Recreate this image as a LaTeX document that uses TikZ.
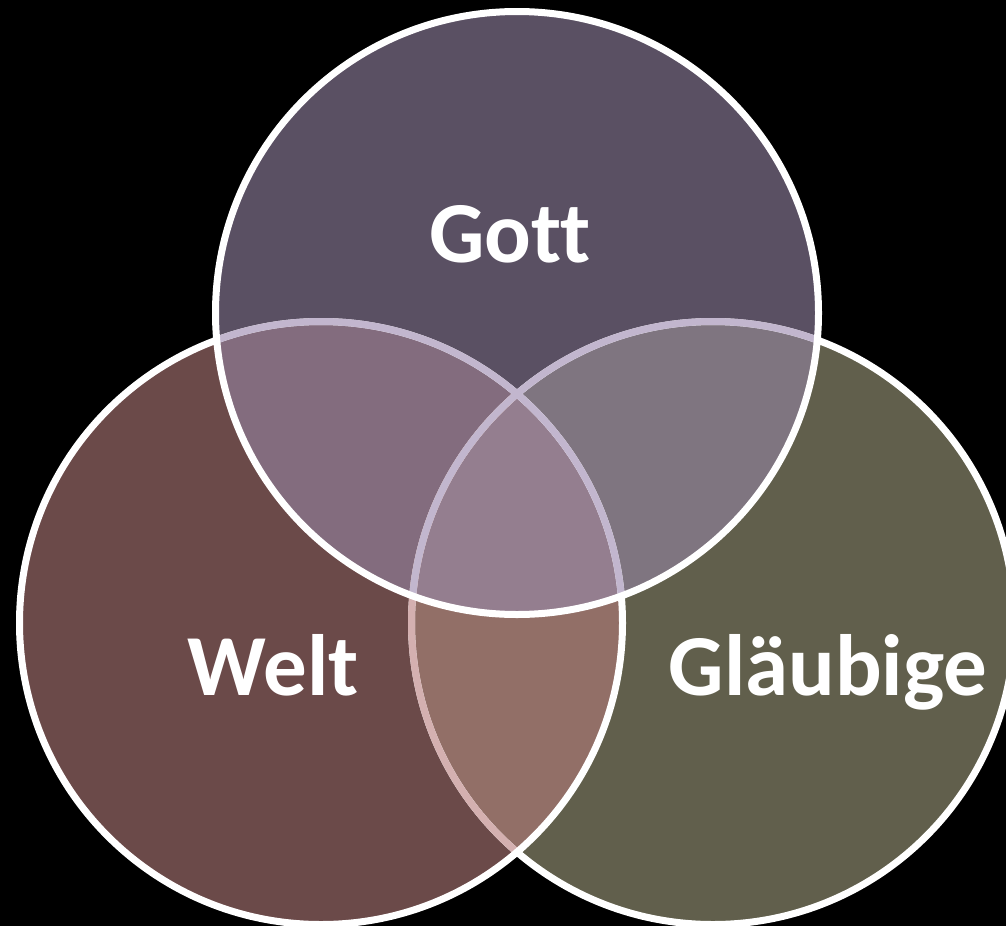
\documentclass[tikz,border=0pt]{standalone}
\usepackage{fontspec}
\setmainfont{Carlito}[RawFeature={-liga;-clig}]
\begin{document}
\begin{tikzpicture}[x=1pt,y=-1pt]
\definecolor{cG}{HTML}{5A5063}
\definecolor{cW}{HTML}{6B4A49}
\definecolor{cL}{HTML}{615F4C}
\definecolor{cGW}{HTML}{836C7E}
\definecolor{cGL}{HTML}{7F7580}
\definecolor{cWL}{HTML}{926F67}
\definecolor{cGWL}{HTML}{947E8F}
\definecolor{lav}{HTML}{C2B6CE}
\definecolor{pinkline}{HTML}{D4B0B0}
\tikzset{
  lbl/.style={text=white,font=\bfseries\fontsize{87}{100}\selectfont,anchor=base,inner sep=0pt},
  ring/.style={line width=7pt}
}
\newcommand\GottPath{(517,313) circle[radius=301.5]}
\newcommand\WeltPath{(321,623) circle[radius=301.5]}
\newcommand\GlPath{(713,623) circle[radius=301.5]}
\useasboundingbox (0,0) rectangle (1006,926);
\fill[black] (0,0) rectangle (1006,926);
\clip (0,0) rectangle (1006,926);
% base fills
\fill[cL] \GlPath;
\fill[cW] \WeltPath;
\fill[cG] \GottPath;
% pairwise overlaps
\begin{scope}\clip \WeltPath; \fill[cWL] \GlPath; \end{scope}
\begin{scope}\clip \GottPath; \fill[cGW] \WeltPath; \end{scope}
\begin{scope}\clip \GottPath; \fill[cGL] \GlPath; \end{scope}
\begin{scope}\clip \GottPath; \clip \WeltPath; \fill[cGWL] \GlPath; \end{scope}
% outlines
\draw[ring,white] \GlPath;
\begin{scope}\clip \WeltPath; \draw[ring,pinkline] \GlPath; \end{scope}
\draw[ring,white] \WeltPath;
\begin{scope}\clip \GottPath; \draw[ring,lav] \WeltPath; \draw[ring,lav] \GlPath; \end{scope}
\draw[ring,white] \GottPath;
% labels
\node[lbl] (gott) at (510,262) {Gott};
\node[lbl] (welt) at (273,695) {Welt};
\node[lbl] (glaeubige) at (828,695) {Gläubige};
\end{tikzpicture}
\end{document}
